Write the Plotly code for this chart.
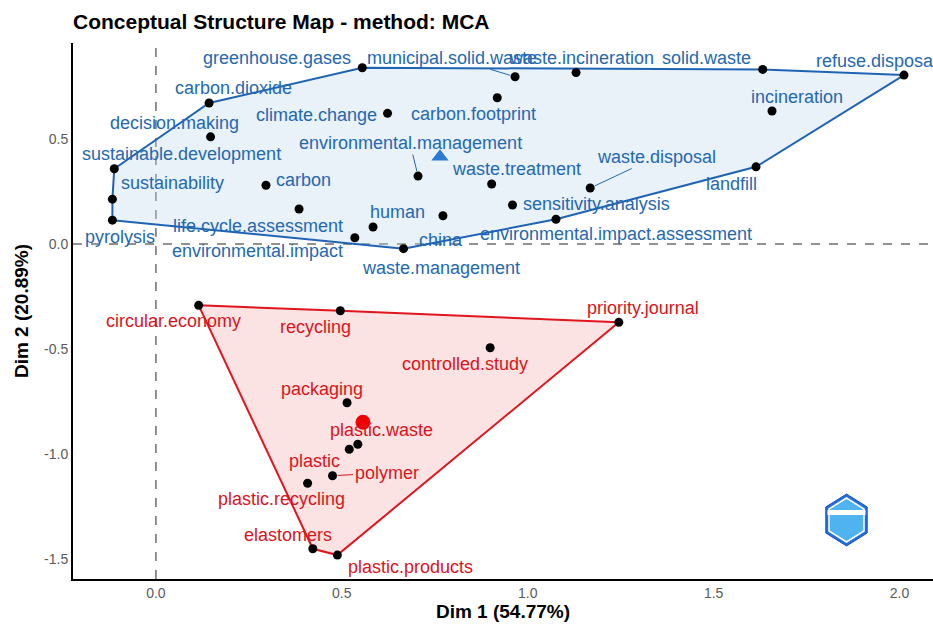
import math
import plotly.graph_objects as go

# ---------------- data ----------------
blue_terms = ["pyrolysis", "sustainability", "sustainable.development", "decision.making",
              "carbon.dioxide", "greenhouse.gases", "carbon", "life.cycle.assessment",
              "environmental.impact", "human", "climate.change", "waste.management",
              "environmental.management", "china", "municipal.solid.waste", "waste.incineration",
              "carbon.footprint", "waste.treatment", "sensitivity.analysis",
              "environmental.impact.assessment", "waste.disposal", "solid.waste",
              "incineration", "landfill", "refuse.disposal"]
blue_dim1 = [-0.117, -0.117, -0.112, 0.147, 0.143, 0.555, 0.296, 0.385, 0.535, 0.584,
             0.623, 0.666, 0.705, 0.772, 0.966, 1.130, 0.918, 0.903, 0.959, 1.076,
             1.168, 1.632, 1.657, 1.614, 2.012]
blue_dim2 = [0.114, 0.214, 0.359, 0.511, 0.672, 0.840, 0.280, 0.167, 0.030, 0.081,
             0.623, -0.022, 0.324, 0.135, 0.797, 0.817, 0.697, 0.286, 0.186, 0.118,
             0.267, 0.832, 0.634, 0.368, 0.805]

red_terms = ["circular.economy", "recycling", "priority.journal", "controlled.study",
             "packaging", "plastic.waste", "plastic", "polymer", "plastic.recycling",
             "elastomers", "plastic.products"]
red_dim1 = [0.115, 0.496, 1.245, 0.899, 0.514, 0.543, 0.520, 0.475, 0.408, 0.422, 0.488]
red_dim2 = [-0.292, -0.318, -0.373, -0.494, -0.756, -0.954, -0.978, -1.104, -1.140, -1.452, -1.482]

blue_centroid = (0.764, 0.416)
red_centroid = (0.557, -0.849)

title = "Conceptual Structure Map - method: MCA"
x_title = "Dim 1 (54.77%)"
y_title = "Dim 2 (20.89%)"
x_ticks = [0.0, 0.5, 1.0, 1.5, 2.0]
y_ticks = [-1.5, -1.0, -0.5, 0.0, 0.5]

# label offsets in pixels (dx right, dy up); leader = draw connecting segment
blue_offsets = {
    "pyrolysis": (8, -17), "sustainability": (60, 16), "sustainable.development": (67, 15),
    "decision.making": (-36, 14), "carbon.dioxide": (24, 15), "greenhouse.gases": (-85, 10),
    "carbon": (38, 5), "life.cycle.assessment": (-41, -17), "environmental.impact": (-97, -13),
    "human": (24, 15), "climate.change": (-71, -2), "waste.management": (37, -19),
    "environmental.management": (-8, 33), "china": (-2, -24), "municipal.solid.waste": (-63, 19),
    "waste.incineration": (5, 15), "carbon.footprint": (-24, -16), "waste.treatment": (25, 15),
    "sensitivity.analysis": (84, 1), "environmental.impact.assessment": (60, -15),
    "waste.disposal": (66, 31), "solid.waste": (-56, 11), "incineration": (25, 14),
    "landfill": (-25, -17), "refuse.disposal": (-28, 14)}
red_offsets = {
    "circular.economy": (-25, -16), "recycling": (-25, -16), "priority.journal": (24, 14),
    "controlled.study": (-25, -16), "packaging": (-25, 14), "plastic.waste": (24, 14),
    "plastic": (-35, -12), "polymer": (54, 3), "plastic.recycling": (-26, -16),
    "elastomers": (-25, 14), "plastic.products": (73, -12)}
leaders = {"environmental.management", "municipal.solid.waste", "waste.disposal", "polymer"}

BLUE = "#1f64b4"
BLUE_TXT = "#2468b0"
BLUE_FILL = "rgba(190,214,238,0.34)"
RED = "#e0151d"
RED_TXT = "#d8141c"
RED_FILL = "rgba(245,150,150,0.27)"
FONT = "Liberation Sans, Arial, sans-serif"


def convex_hull(xs, ys):
    pts = sorted(set(zip(xs, ys)))

    def cross(o, a, b):
        return (a[0] - o[0]) * (b[1] - o[1]) - (a[1] - o[1]) * (b[0] - o[0])

    lower, upper = [], []
    for p in pts:
        while len(lower) >= 2 and cross(lower[-2], lower[-1], p) <= 0:
            lower.pop()
        lower.append(p)
    for p in reversed(pts):
        while len(upper) >= 2 and cross(upper[-2], upper[-1], p) <= 0:
            upper.pop()
        upper.append(p)
    hull = lower[:-1] + upper[:-1]
    hull.append(hull[0])
    return [p[0] for p in hull], [p[1] for p in hull]


fig = go.Figure()

for xs, ys, col, fill in [(blue_dim1, blue_dim2, BLUE, BLUE_FILL), (red_dim1, red_dim2, RED, RED_FILL)]:
    hx, hy = convex_hull(xs, ys)
    fig.add_trace(go.Scatter(x=hx, y=hy, mode="lines", fill="toself", fillcolor=fill,
                             line=dict(color=col, width=2), hoverinfo="skip", showlegend=False))

fig.add_trace(go.Scatter(x=blue_dim1 + red_dim1, y=blue_dim2 + red_dim2, mode="markers",
                         marker=dict(color="black", size=9), showlegend=False,
                         text=blue_terms + red_terms, hoverinfo="text"))

fig.add_trace(go.Scatter(x=[blue_centroid[0]], y=[blue_centroid[1]], mode="markers",
                         marker=dict(symbol="triangle-up", color="#2a7ad2", size=15),
                         showlegend=False, hoverinfo="skip"))
fig.add_trace(go.Scatter(x=[red_centroid[0]], y=[red_centroid[1]], mode="markers",
                         marker=dict(symbol="circle", color="#f00000", size=15),
                         showlegend=False, hoverinfo="skip"))

annotations = []
for terms, xs, ys, offs, col in [(blue_terms, blue_dim1, blue_dim2, blue_offsets, BLUE_TXT),
                                 (red_terms, red_dim1, red_dim2, red_offsets, RED_TXT)]:
    for t, x, y in zip(terms, xs, ys):
        dx, dy = offs[t]
        if t in leaders:
            annotations.append(dict(x=x, y=y, xref="x", yref="y", text=t, showarrow=True,
                                    ax=dx, ay=-dy, axref="pixel", ayref="pixel",
                                    arrowhead=0, arrowwidth=1, arrowcolor=col, standoff=5,
                                    font=dict(color=col, size=18, family=FONT)))
        else:
            annotations.append(dict(x=x, y=y, xref="x", yref="y", text=t, showarrow=False,
                                    xshift=dx, yshift=dy,
                                    font=dict(color=col, size=18, family=FONT)))

fig.update_layout(annotations=annotations)

fig.add_hline(y=0, line=dict(color="#6e6e6e", width=1.5, dash="dash"), layer="below")
fig.add_vline(x=0, line=dict(color="#6e6e6e", width=1.5, dash="dash"), layer="below")

# logo (hexagon badge) in paper coordinates
cx, cy, r = 846.5, 520.0, 26.0
L, R, T, B = 73.0, 933.0, 43.0, 579.0


def hexpath(cx, cy, r):
    pts = []
    for k in range(6):
        ang = math.radians(90 + 60 * k)
        px = cx + r * math.cos(ang) * 0.92
        py = cy - r * math.sin(ang)
        pts.append(((px - L) / (R - L), (B - py) / (B - T)))
    return "M " + " L ".join(f"{a:.5f},{b:.5f}" for a, b in pts) + " Z"


fig.add_shape(type="path", xref="paper", yref="paper", path=hexpath(cx, cy, r),
              fillcolor="#1f6fe0", line=dict(color="#1b4fc8", width=1))
fig.add_shape(type="path", xref="paper", yref="paper", path=hexpath(cx, cy, r - 4),
              fillcolor="#4fb3f0", line=dict(color="white", width=1.5))
fig.add_shape(type="rect", xref="paper", yref="paper",
              x0=(cx - 19 - L) / (R - L), x1=(cx + 19 - L) / (R - L),
              y0=(B - (cy - 5)) / (B - T), y1=(B - (cy - 10)) / (B - T),
              fillcolor="white", line=dict(width=0))

fig.update_layout(
    width=933, height=626,
    margin=dict(l=73, r=0, t=43, b=47),
    paper_bgcolor="white", plot_bgcolor="white",
    title=dict(text=f"<b>{title}</b>", x=73 / 933, xanchor="left", y=1 - 22 / 626,
               yanchor="middle", font=dict(size=21, color="black", family=FONT)),
    xaxis=dict(range=[-0.223, 2.09], tickvals=x_ticks, ticktext=[f"{v:.1f}" for v in x_ticks],
               showgrid=False, zeroline=False, showline=True, linecolor="black", linewidth=2,
               ticks="", tickfont=dict(size=14, color="#5a5a5a", family=FONT),
               title=dict(text=f"<b>{x_title}</b>", font=dict(size=19, color="black", family=FONT),
                          standoff=3)),
    yaxis=dict(range=[-1.596, 0.958], tickvals=y_ticks, ticktext=[f"{v:.1f}" for v in y_ticks],
               showgrid=False, zeroline=False, showline=True, linecolor="black", linewidth=2,
               ticks="", tickfont=dict(size=14, color="#5a5a5a", family=FONT),
               title=dict(text=f"<b>{y_title}</b>", font=dict(size=19, color="black", family=FONT),
                          standoff=10)),
)

fig.write_html("out.html", config={"displayModeBar": False},
               post_script="document.body.style.margin='0px';")
